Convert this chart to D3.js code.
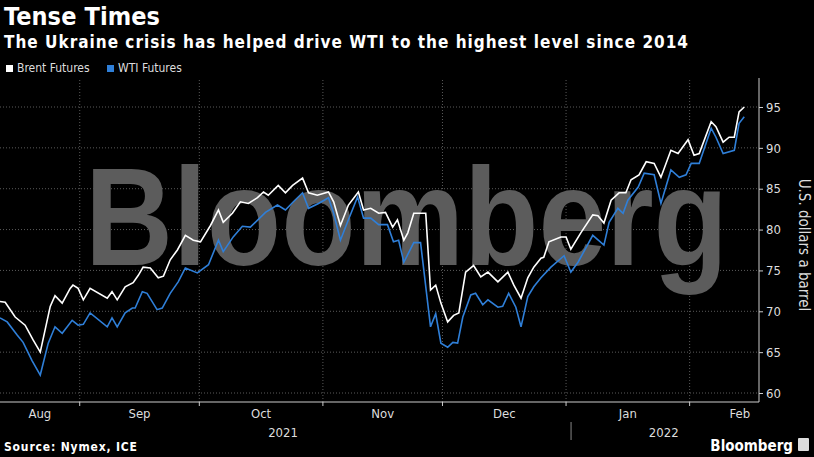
<!DOCTYPE html>
<html><head><meta charset="utf-8">
<script src="https://d3js.org/d3.v7.min.js"></script>
<style>body{margin:0;background:#000}svg{display:block}</style>
</head><body>
<script>
// Data: days after 2021-08-12, values in USD/barrel
const brentDays=[0,1.3,3.8,6.3,8.3,10.1,12.6,13.8,15.6,17.6,18.3,19.6,20.9,22.6,26.9,28.1,29.4,31.4,33.4,34.7,35.9,37.7,39.7,41,42.7,44.5,46.5,48.5,50.3,52.8,54.8,56,58.3,60.3,62.3,64.6,66.1,67.3,69.8,71.6,73.4,75.9,77.4,79.6,82.4,83.7,85.4,87.4,89.9,91.2,93,95,96.7,98.5,99.7,101.3,102.3,103.8,106.8,108,109.3,110.6,112.3,113.8,115.1,116.8,118.8,120.6,122.4,124.9,127.4,128.9,130.7,132.4,133.9,135.7,136.4,137.7,140.7,142,143.2,145.7,148.7,150,151.5,153.3,155.3,157,158.3,160.3,162.1,164.1,165.8,168.3,170.1,172.6,174.1,175.4,178.4,179.6,181.4,182.9,184.2,185.4,186.7];
const brentValues=[71.2,71.1,69.3,68.3,66.5,65.0,70.6,71.9,71.0,72.8,73.2,72.8,71.4,72.8,71.6,72.4,71.4,73.0,73.5,74.4,75.4,75.3,74.1,74.3,76.3,77.5,79.3,78.7,78.5,80.5,82.4,80.9,82.0,83.4,83.2,83.9,84.6,84.2,85.4,84.5,85.4,86.3,84.5,84.2,84.6,83.4,80.5,83.0,84.6,82.4,82.6,82.0,82.1,80.3,81.2,78.7,79.6,82.0,82.0,72.6,73.2,71.0,68.7,69.5,69.8,74.8,75.6,74.2,74.8,73.6,74.8,73.2,71.6,74.1,75.4,76.5,76.6,78.5,79.1,79.1,77.6,79.6,81.8,81.7,80.8,83.6,84.5,84.5,86.1,86.7,88.3,88.1,86.4,89.7,89.3,91.0,89.1,89.3,93.2,92.6,90.7,91.3,91.3,94.4,95.0];
const wtiDays=[0,1.8,4.3,5.8,8,10.1,12.1,13.8,15.6,18.1,19.6,20.9,22.6,26.9,28.1,29.4,31.4,33.2,33.9,35.7,36.9,39.4,40.7,42.7,44.7,46.5,49.5,52.3,54.8,56,58.5,60.8,62.8,66.6,69.6,71.6,73.6,75.9,77.4,79.9,82.4,83.7,85.4,87.4,89.7,91.2,93,95,97.2,98.7,100,101.3,103.8,105.5,108,109.3,110.6,112.3,113.6,114.8,116.1,118.1,119.3,121.1,122.4,124.9,126.1,127.6,129.4,130.7,132.4,133.9,135.7,138.2,141.5,143.2,145,148.7,151.5,152.8,155,156.3,157.5,160.1,161.6,164.1,165.8,168.3,170.4,172.1,173.4,175.4,178.4,179.6,181.4,184.2,185.4,186.7];
const wtiValues=[69.2,68.7,67.1,66.2,64.0,62.2,66.1,68.1,67.3,68.9,68.3,68.4,69.8,68.1,69.2,68.1,69.8,70.4,70.4,72.4,72.2,70.2,70.4,72.2,73.6,75.3,74.7,75.7,78.7,77.3,79.1,80.4,80.3,82.1,83.0,82.4,83.4,84.5,82.6,83.2,83.9,82.0,78.7,81.2,84.0,81.4,81.4,80.6,80.6,78.5,78.7,76.0,78.4,78.4,68.1,69.7,66.1,65.6,66.2,66.1,69.3,72.0,72.2,70.8,71.4,70.5,70.6,72.2,70.5,68.1,71.8,73.0,74.1,75.4,76.8,74.8,76.0,79.3,78.1,80.9,82.6,82.0,83.6,85.2,86.9,86.7,83.2,87.3,86.4,86.7,88.1,88.1,92.4,91.3,89.3,89.7,93.0,93.8];
const yTicks=[60,65,70,75,80,85,90,95];
const months=[["Aug","2021-08-01"],["Sep","2021-09-01"],["Oct","2021-10-01"],["Nov","2021-11-01"],["Dec","2021-12-01"],["Jan","2022-01-01"],["Feb","2022-02-01"]];
const years=[["2021","2021-08-12","2022-01-01"],["2022","2022-01-01","2022-02-19"]];
const seriesNames=["Brent Futures","WTI Futures"];
const colors=["#ffffff","#2f7fd8"];

const W=814,H=457;
const parse=d3.utcParse("%Y-%m-%d");
const start=parse("2021-08-12"), end=new Date(start.getTime()+190.4*864e5);
const svg=d3.select("body").append("svg").attr("width",W).attr("height",H).style("background","#000");
const x=d3.scaleUtc().domain([start,end]).range([0,759]);
const y=d3.scaleLinear().domain([60,95]).range([393,107]);
const toDate=d=>new Date(start.getTime()+d*864e5);
const cond="'DejaVu Sans Condensed','Liberation Sans Narrow',sans-serif";

// grid
svg.append("g").selectAll("line").data(yTicks).join("line")
 .attr("x1",0).attr("x2",759).attr("y1",d=>y(d)).attr("y2",d=>y(d))
 .attr("stroke","#5a5a5a").attr("stroke-dasharray","1,2");
svg.append("g").selectAll("line").data(months.slice(1)).join("line")
 .attr("x1",d=>x(parse(d[1]))).attr("x2",d=>x(parse(d[1]))).attr("y1",80).attr("y2",402)
 .attr("stroke","#5a5a5a").attr("stroke-dasharray","1,2");

// watermark
svg.append("text").text("Bloomberg").attr("x",85).attr("y",265)
 .attr("font-family","Liberation Sans,Arial,sans-serif").attr("font-weight","bold")
 .attr("font-size",140).attr("textLength",643).attr("lengthAdjust","spacingAndGlyphs")
 .attr("fill","#5c5c5c");

// lines
const line=d3.line().x(d=>x(toDate(d[0]))).y(d=>y(d[1]));
svg.append("path").datum(brentDays.map((d,i)=>[d,brentValues[i]])).attr("d",line).attr("fill","none").attr("stroke",colors[0]).attr("stroke-width",1.6);
svg.append("path").datum(wtiDays.map((d,i)=>[d,wtiValues[i]])).attr("d",line).attr("fill","none").attr("stroke",colors[1]).attr("stroke-width",1.6);

// y axis
const ya=svg.append("g").attr("transform","translate(759,0)").call(d3.axisRight(y).tickValues(yTicks).tickSize(4).tickPadding(3));
ya.select(".domain").attr("d","M0,78V402").attr("stroke","#ccc");
ya.selectAll("line").attr("stroke","#ccc");
ya.selectAll("text").attr("fill","#ddd").attr("font-size",13).attr("font-family",cond);
svg.append("text").text("U.S. dollars a barrel").attr("transform","translate(799,245) rotate(90)")
 .attr("text-anchor","middle").attr("fill","#ddd").attr("font-size",15).attr("font-family",cond);

// x axis
svg.append("line").attr("x1",0).attr("x2",759).attr("y1",402).attr("y2",402).attr("stroke","#ccc");
svg.append("g").selectAll("line").data(months.slice(1)).join("line")
 .attr("x1",d=>x(parse(d[1]))).attr("x2",d=>x(parse(d[1]))).attr("y1",402).attr("y2",406).attr("stroke","#ccc");
svg.append("g").selectAll("text").data(months).join("text")
 .attr("x",(d,i)=>{const a=Math.max(0,x(parse(d[1])));const b=i<months.length-1?x(parse(months[i+1][1])):790;return (a+b)/2;})
 .attr("y",418).attr("text-anchor","middle").attr("fill","#ddd").attr("font-size",13).attr("font-family",cond).text(d=>d[0]);
svg.append("g").selectAll("text").data(years).join("text")
 .attr("x",d=>(x(parse(d[1]))+x(parse(d[2])))/2).attr("y",437).attr("text-anchor","middle")
 .attr("fill","#ddd").attr("font-size",13).attr("font-family",cond).text(d=>d[0]);
svg.append("line").attr("x1",x(parse("2022-01-01"))+5).attr("x2",x(parse("2022-01-01"))+5).attr("y1",422).attr("y2",440).attr("stroke","#888");

// titles
svg.append("text").text("Tense Times").attr("x",4).attr("y",25).attr("fill","#fff").attr("font-size",25).attr("font-weight","bold").attr("font-family",cond).attr("textLength",156);
svg.append("text").text("The Ukraine crisis has helped drive WTI to the highest level since 2014").attr("x",4).attr("y",48).attr("fill","#fff").attr("font-size",17).attr("font-weight","bold").attr("font-family",cond).attr("textLength",684);

// legend
const lg=svg.append("g").selectAll("g").data(seriesNames).join("g").attr("transform",(d,i)=>`translate(${[6,107][i]},65)`);
lg.append("rect").attr("width",7).attr("height",7).attr("fill",(d,i)=>colors[i]);
lg.append("text").attr("x",11).attr("y",7).text(d=>d).attr("fill","#ddd").attr("font-size",12).attr("font-family",cond);

// footer
svg.append("text").text("Source: Nymex, ICE").attr("x",4).attr("y",451).attr("fill","#fff").attr("font-size",12).attr("font-weight","bold").attr("font-family",cond).attr("textLength",133);
svg.append("text").text("Bloomberg").attr("x",793).attr("y",451).attr("text-anchor","end").attr("fill","#fff").attr("font-size",15).attr("font-weight","bold").attr("font-family",cond);
svg.append("rect").attr("x",798).attr("y",438).attr("width",11).attr("height",13).attr("rx",1).attr("fill","#ddd");
</script>
</body></html>
